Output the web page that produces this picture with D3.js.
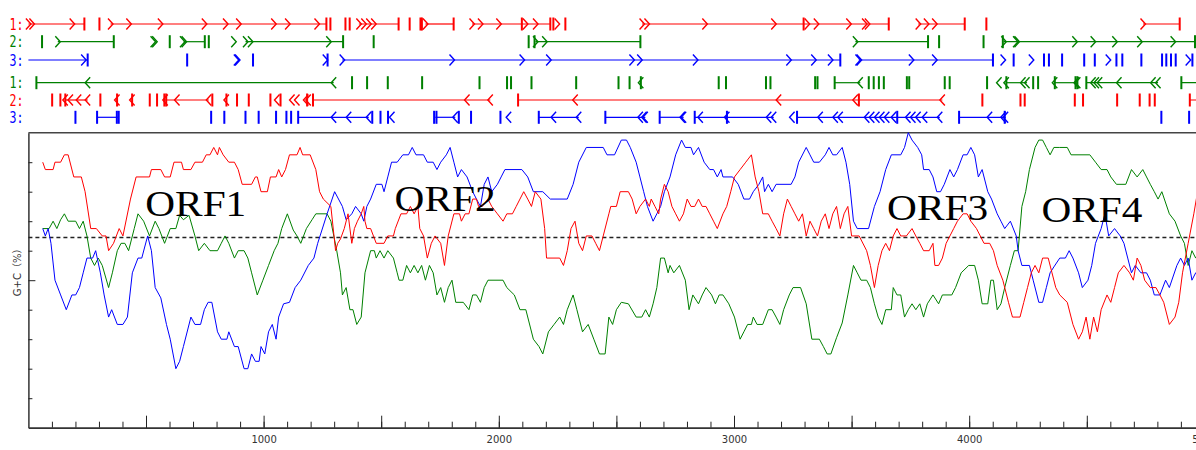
<!DOCTYPE html>
<html>
<head>
<meta charset="utf-8">
<script src="https://cdn.jsdelivr.net/npm/d3@7"></script>
<style>
  body { margin: 0; background: #fff; }
  svg { display: block; }
</style>
</head>
<body>
<svg id="chart" width="1196" height="450"></svg>
<script>
// G+C content per frame, [position (bp), G+C %]
const redGC = [[61,90],[72,87.5],[105,87.5],[113,90],[137,90],[153,92.5],[169,92.5],[193,85],[225,85],[241,80],[265,67.5],[289,67.5],[314,65],[330,65],[341,60],[362,62.5],[386,67.5],[402,65],[434,77.5],[458,85],[515,85],[523,87.5],[563,87.5],[579,85],[603,85],[619,90],[651,90],[659,87.5],[691,87.5],[708,90],[740,90],[756,92.5],[772,92.5],[788,95],[804,92.5],[812,95],[828,92.5],[852,90],[876,90],[892,87.5],[909,82.5],[949,82.5],[965,85],[973,85],[989,80],[1016,80],[1029,85],[1053,85],[1064,87.5],[1077,85],[1093,87.5],[1110,92.5],[1142,92.5],[1155,95],[1166,92.5],[1198,92.5],[1222,87.5],[1238,80],[1254,77.5],[1286,75],[1306,60],[1315,62.5],[1327,64],[1343,67.5],[1359,72.5],[1375,62.5],[1386,67.5],[1399,70],[1415,72.5],[1426,75],[1431,70],[1439,67.5],[1455,67.5],[1479,62.5],[1512,62.5],[1528,65],[1552,65],[1560,67.5],[1584,72.5],[1608,72.5],[1624,75],[1640,72.5],[1656,75],[1664,67.5],[1680,65],[1696,57.5],[1713,62.5],[1729,65],[1753,62.5],[1769,55],[1785,65],[1809,72.5],[1833,72.5],[1841,70],[1857,72.5],[1873,72.5],[1889,77.5],[1905,77.5],[1914,75],[1930,75],[1954,77.5],[1970,75],[1994,72.5],[2018,70],[2034,72.5],[2058,72.5],[2074,75],[2090,77.5],[2106,80],[2123,77.5],[2139,75],[2155,80],[2179,77.5],[2195,67.5],[2203,57.5],[2259,57.5],[2275,55],[2291,60],[2307,67.5],[2324,70],[2340,62.5],[2356,60],[2372,65],[2396,65],[2412,62.5],[2428,60],[2444,65],[2468,72.5],[2476,75],[2500,75],[2516,80],[2551,80],[2567,77.5],[2584,72.5],[2600,75],[2624,77.5],[2640,75],[2648,77.5],[2664,75],[2680,72.5],[2688,77.5],[2704,82.5],[2720,80],[2736,75],[2752,72.5],[2768,70],[2785,72.5],[2801,77.5],[2817,75],[2833,75],[2849,77.5],[2865,75],[2881,75],[2897,72.5],[2913,70],[2929,67.5],[2953,72.5],[2969,75],[2986,80],[3002,85],[3026,87.5],[3050,90],[3074,92.5],[3090,85],[3106,80],[3122,72.5],[3146,72.5],[3162,70],[3179,67.5],[3195,65],[3211,72.5],[3227,77.5],[3243,75],[3259,72.5],[3275,70],[3291,72.5],[3307,65],[3323,70],[3339,67.5],[3355,65],[3371,70],[3388,72.5],[3404,67.5],[3420,72.5],[3436,75],[3452,67.5],[3468,72.5],[3484,75],[3500,65],[3532,65],[3564,60],[3580,55],[3597,47.5],[3613,55],[3629,60],[3645,62.5],[3661,60],[3677,65],[3693,67.5],[3709,65],[3733,65],[3757,67.5],[3773,65],[3790,62.5],[3806,60],[3830,60],[3846,62.5],[3854,55],[3870,55],[3886,57.5],[3902,62.5],[3918,65],[3934,67.5],[3950,70],[3974,72.5],[3991,72.5],[4007,70],[4031,67.5],[4047,65],[4063,62.5],[4087,62.5],[4103,60],[4119,55],[4143,50],[4167,42.5],[4184,37.5],[4216,37.5],[4232,42.5],[4248,47.5],[4264,52.5],[4280,55],[4296,52.5],[4312,57.5],[4336,57.5],[4352,52.5],[4368,47.5],[4385,45],[4417,42.5],[4441,35],[4465,30],[4481,32.5],[4497,37.5],[4513,30],[4529,37.5],[4545,32.5],[4561,40],[4586,45],[4602,42.5],[4618,47.5],[4634,52.5],[4658,55],[4682,52.5],[4698,50],[4714,57.5],[4730,55],[4746,50],[4770,47.5],[4794,47.5],[4811,45],[4827,42.5],[4851,35],[4875,37.5],[4891,42.5],[4907,52.5],[4931,62.5],[4955,72.5],[4971,80],[4992,84]];

const blueGC = [[61,67.5],[72,65],[84,67.5],[96,62.5],[113,50],[137,45],[161,40],[185,45],[201,45],[217,47.5],[233,52.5],[249,57.5],[273,57.5],[286,60],[306,52.5],[322,45],[341,37.5],[354,40],[378,35],[402,35],[421,37.5],[442,52.5],[466,57.5],[482,57.5],[507,65],[523,60],[539,47.5],[563,44],[587,35],[603,30],[627,20],[643,22.5],[659,27.5],[691,37.5],[708,35],[732,35],[748,40],[764,42.5],[780,42.5],[804,32.5],[820,30],[844,30],[852,32.5],[876,27.5],[892,27.5],[917,20],[933,20],[949,25],[965,22.5],[981,22.5],[989,27.5],[1005,25],[1021,32.5],[1037,35],[1053,30],[1064,37.5],[1085,42],[1110,42.5],[1134,47.5],[1158,50],[1190,55],[1214,57.5],[1230,62.5],[1270,72.5],[1302,80],[1335,75],[1351,70.5],[1375,72.5],[1391,75],[1415,72.5],[1426,70],[1439,75],[1455,77.5],[1479,82.5],[1503,82.5],[1512,80],[1528,85],[1544,90],[1568,90],[1592,92.5],[1616,92.5],[1632,95],[1648,92.5],[1680,92.5],[1696,90],[1721,90],[1737,87.5],[1753,90],[1777,92.5],[1793,95],[1809,90],[1825,85],[1841,87.5],[1865,85],[1889,80],[1905,77.5],[1922,75],[1938,82.5],[1954,85],[1970,80],[1994,82.5],[2010,85],[2026,87.5],[2098,87.5],[2123,85],[2147,80],[2187,80],[2219,77.5],[2291,77.5],[2316,82.5],[2340,90],[2372,95],[2444,95],[2460,92.5],[2492,92.5],[2521,97.5],[2543,97.5],[2559,95],[2584,90],[2600,85],[2616,80],[2632,75],[2656,70],[2672,72.5],[2688,75],[2704,80],[2728,85],[2752,92.5],[2777,97.5],[2793,95],[2817,95],[2828,92.5],[2849,95],[2873,90],[2897,87.5],[2913,87.5],[2929,85],[2945,87.5],[2953,85],[2994,85],[3018,82.5],[3042,77.5],[3066,77.5],[3082,80],[3106,82.5],[3122,85],[3130,80],[3146,82.5],[3162,80],[3179,82.5],[3243,82.5],[3259,85],[3275,90],[3307,95],[3323,92.5],[3339,90],[3363,90],[3388,92.5],[3404,95],[3420,92.5],[3436,92.5],[3460,95],[3476,90],[3492,82.5],[3508,70],[3524,67.5],[3572,67.5],[3597,75],[3621,80],[3645,87.5],[3669,92.5],[3709,92.5],[3725,95],[3741,100],[3757,97.5],[3781,95],[3798,92.5],[3806,87.5],[3830,87.5],[3846,85],[3862,80],[3878,80],[3894,82.5],[3918,87.5],[3934,85],[3950,87.5],[3974,92.5],[3991,92.5],[4007,95],[4023,92.5],[4039,85],[4055,87.5],[4079,80],[4095,77.5],[4119,72.5],[4135,70],[4151,67.5],[4175,70],[4200,65],[4208,60],[4224,55],[4256,55],[4272,50],[4296,42.5],[4312,42.5],[4328,47.5],[4344,52.5],[4360,54.5],[4385,57.5],[4409,57.5],[4425,60],[4441,57.5],[4465,52.5],[4481,47.5],[4505,50],[4521,55],[4537,62.5],[4561,67.5],[4577,72.5],[4593,65],[4618,67.5],[4642,65],[4658,62.5],[4674,57.5],[4690,52.5],[4706,55],[4730,52.5],[4754,52.5],[4770,50],[4787,45],[4811,45],[4835,50],[4851,47.5],[4883,55],[4899,57.5],[4915,55],[4931,57.5],[4947,50],[4963,52.5],[4992,51]];

const greenGC = [[61,67.5],[88,67.5],[105,70],[121,67.5],[137,70.5],[153,72.5],[169,70],[201,70],[217,67.5],[233,70],[249,65],[265,57.5],[281,55],[297,57.5],[314,55],[341,47.5],[357,52.5],[378,60],[394,62.5],[410,62.5],[426,60],[450,67.5],[466,72.5],[490,70],[515,65],[539,70],[555,67.5],[579,62.5],[603,67.5],[627,67.5],[643,72],[659,70.5],[683,72],[708,65],[724,60],[748,62.5],[772,60],[804,60],[820,62.5],[836,65],[852,62.5],[876,57.5],[892,60],[917,60],[933,57.5],[949,52.5],[973,45],[997,50],[1021,55],[1045,60],[1061,62.5],[1077,67.5],[1101,72.5],[1126,67],[1142,65],[1158,62.5],[1182,67.5],[1206,70.5],[1222,72.5],[1270,72.5],[1286,70],[1311,60],[1327,52.5],[1335,45],[1351,47.5],[1367,40],[1380,40],[1396,35],[1415,37.5],[1431,52.5],[1447,57.5],[1455,60],[1471,60],[1479,57.5],[1495,60],[1512,57.5],[1528,60],[1552,57.5],[1568,52.5],[1576,50],[1592,50],[1608,55],[1624,52.5],[1640,55],[1656,52.5],[1672,55],[1688,50],[1705,55],[1721,52.5],[1737,45],[1753,47.5],[1769,42.5],[1785,47.5],[1801,50],[1817,42.5],[1849,42.5],[1873,40],[1889,45],[1905,45],[1922,42.5],[1938,47.5],[1954,50],[2018,50],[2034,47.5],[2066,45],[2090,40],[2115,40],[2147,30],[2171,27.5],[2187,25],[2211,32.5],[2235,35],[2259,37.5],[2275,35],[2291,40],[2316,45],[2332,40],[2356,32.5],[2380,35],[2404,30],[2428,25],[2452,25],[2468,37.5],[2484,35],[2500,40],[2521,42.5],[2551,42],[2584,37.5],[2608,37.5],[2624,40],[2640,37.5],[2656,42],[2672,47.5],[2688,57.5],[2704,57.5],[2720,52.5],[2728,55],[2744,52.5],[2768,55],[2793,50],[2809,40],[2825,45],[2849,42],[2865,45],[2881,47.5],[2905,45],[2921,42],[2937,45],[2953,45],[2978,42],[3002,37.5],[3026,30],[3042,32.5],[3058,35],[3074,35],[3082,37.5],[3098,35],[3122,35],[3146,40],[3162,40],[3179,37.5],[3195,35],[3211,40],[3235,45],[3251,47.5],[3283,47.5],[3307,42],[3331,30],[3363,30],[3380,27.5],[3396,25],[3412,25],[3436,30.5],[3460,35.5],[3484,45],[3508,55],[3524,52.5],[3540,50],[3564,50],[3580,47.5],[3597,42],[3613,37.5],[3629,35],[3645,40],[3669,40],[3677,47.5],[3693,45],[3709,45],[3725,37.5],[3741,40],[3757,42],[3773,40],[3790,42],[3806,37.5],[3822,42],[3846,45],[3870,42],[3886,45],[3926,45],[3942,47.5],[3966,52.5],[3998,55],[4023,55],[4039,50],[4055,42],[4079,42],[4092,50],[4103,50],[4119,40],[4135,42],[4151,47.5],[4175,55],[4192,60],[4208,60],[4224,75],[4240,80],[4256,87.5],[4280,95],[4296,97.5],[4312,97.5],[4328,95],[4344,92.5],[4360,95],[4385,95],[4417,95],[4433,92.5],[4513,92.5],[4537,90],[4561,87.5],[4586,87.5],[4602,85],[4626,82.5],[4666,82.5],[4690,87.5],[4714,85],[4738,87.5],[4754,85],[4770,82.5],[4787,80],[4803,77.5],[4819,80],[4851,72.5],[4875,70],[4899,65],[4915,62.5],[4931,55],[4947,60],[4963,57.5],[4992,62.5]];

const meanGC = 64.5;

const orfNames = ['ORF1', 'ORF2', 'ORF3', 'ORF4'];
const orfNamePos = [[497, 71.8], [1557, 73.5], [3651, 70.3], [4307, 69.7]];

const xMajorTicks = d3.range(500, 5001, 500);
const xMinorTicks = d3.range(100, 5000, 100);
const yTicks = d3.range(10, 100, 10);

// ORF map: stop codons, start codons, open reading frames (bp)
const fwd1Stops = [238,302,1267,1284,1348,1366,1574,1621,1667,1673,1808,2098,2219,2232,2283,3296,3658,3981,4073,4895];
const fwd1Starts = [0,15,186,349,427,561,748,838,894,1043,1102,1227,1405,1426,1447,1468,1688,1886,1922,2000,2113,2156,2248,2609,2630,2876,3169,3311,3350,3488,3555,3567,3783,3818,3853,4739];
const fwd1Orfs = [[0,238],[349,1267],[1405,1574],[1688,1808],[1886,2219],[2609,3658],[3783,3981],[4739,4895]];

const fwd2Stops = [58,363,601,750,767,1338,1468,2127,2152,2602,3825,3872,4061,4143,4960];
const fwd2Starts = [125,530,537,655,662,873,923,944,1277,2156,2195,3516,4147,4197,4203,4449,4527,4619,4725,4867];
const fwd2Orfs = [[125,363],[660,750],[923,1338],[2156,2602],[3516,3825],[4147,4960]];

const fwd3Stops = [252,675,955,1272,3452,4101,4189,4318,4339,4395,4489,4534,4626,4651,4732,4820,4838,4858,4878,4949];
const fwd3Starts = [235,884,889,1262,1334,1801,2099,2212,2566,2599,2836,3233,3339,3410,3527,3532,3754,3853,4144,4264,4591,4931];
const fwd3Orfs = [[0,252],[1334,3452],[3530,4101]];

const rev1Stops = [34,1376,1440,1528,1674,1918,2035,2052,2139,2329,2509,2556,2604,2935,2966,3136,3155,3345,3355,3428,3573,3594,3616,3637,3735,3745,3896,3917,4076,4158,4272,4293,4364,4452,4460,4498,4902];
const rev1Starts = [252,1298,2604,3537,4127,4158,4229,4246,4364,4456,4462,4527,4541,4555,4637,4782,4803];
const rev1Orfs = [[34,1298],[3428,3537],[4158,4246],[4364,4456],[4498,4803],[4902,5100]];

const rev2Stops = [101,136,157,306,377,441,516,547,578,586,782,842,887,937,1029,1072,1185,1210,2082,3531,4056,4218,4236,4449,4484,4629,4725,4767,4789,4938];
const rev2Starts = [157,179,214,252,377,441,582,632,767,842,1057,1121,1142,1180,1190,1865,1964,2325,3190,3516,3886];
const rev2Orfs = [[157,252],[582,767],[1210,1964],[2082,3886],[4938,5100]];

const rev3Stops = [200,292,376,384,777,833,923,979,1053,1097,1117,1147,1462,1497,1529,1725,1735,1830,1882,2007,2170,2453,2684,2833,2970,3268,3694,3957,4151,4817,4935];
const rev3Starts = [1298,1362,1447,1546,1815,2042,2233,2340,2602,2618,2623,2781,2786,2857,2970,3148,3169,3247,3367,3431,3452,3565,3586,3608,3629,3650,3679,3740,3761,3783,3811,3875,4087,4145,4155];
const rev3Orfs = [[292,380],[1147,1447],[1730,1815],[2170,2340],[2453,2623],[2684,2786],[2833,3169],[3268,3875],[3957,4155]];

const trackLabels = ['1:', '2:', '3:', '1:', '2:', '3:'];

const red = '#ff0000', green = '#008000', blue = '#0000ff';
const tracks = [
  {label: trackLabels[0], color: red,   dir: 1,  y: 24,    stops: fwd1Stops, starts: fwd1Starts, orfs: fwd1Orfs},
  {label: trackLabels[1], color: green, dir: 1,  y: 41.7,  stops: fwd2Stops, starts: fwd2Starts, orfs: fwd2Orfs},
  {label: trackLabels[2], color: blue,  dir: 1,  y: 60,    stops: fwd3Stops, starts: fwd3Starts, orfs: fwd3Orfs},
  {label: trackLabels[3], color: green, dir: -1, y: 82.7,  stops: rev1Stops, starts: rev1Starts, orfs: rev1Orfs},
  {label: trackLabels[4], color: red,   dir: -1, y: 100,   stops: rev2Stops, starts: rev2Starts, orfs: rev2Orfs},
  {label: trackLabels[5], color: blue,  dir: -1, y: 117.3, stops: rev3Stops, starts: rev3Starts, orfs: rev3Orfs}
];

const svg = d3.select('#chart');
const xScale = d3.scaleLinear().domain([0, 5000]).range([28.4, 1204.4]);
const yScale = d3.scaleLinear().domain([0, 100]).range([427.7, 132.7]);

// ---- ORF map ----
const mapG = svg.append('g').attr('class', 'orf-map');
tracks.forEach(t => {
  const g = mapG.append('g');
  g.append('text')
    .attr('x', 9.5)
    .attr('y', t.y + 5.5)
    .attr('fill', t.color)
    .attr('font-family', 'DejaVu Sans Mono, monospace')
    .attr('font-size', 15)
    .attr('textLength', 14)
    .attr('lengthAdjust', 'spacingAndGlyphs')
    .text(t.label);

  g.selectAll('line.orf').data(t.orfs).enter().append('line')
    .attr('class', 'orf')
    .attr('x1', d => xScale(d[0]))
    .attr('x2', d => xScale(d[1]))
    .attr('y1', t.y).attr('y2', t.y)
    .attr('stroke', t.color)
    .attr('stroke-width', 1.2);

  g.selectAll('rect.stop').data(t.stops).enter().append('rect')
    .attr('class', 'stop')
    .attr('x', d => xScale(d) - 1)
    .attr('y', t.y - 6.5)
    .attr('width', 2)
    .attr('height', 13)
    .attr('fill', t.color);

  g.selectAll('path.start').data(t.starts).enter().append('path')
    .attr('class', 'start')
    .attr('d', d => {
      const x = xScale(d), w = 2.5 * t.dir;
      return `M${x - w},${t.y - 5.5}L${x + w},${t.y}L${x - w},${t.y + 5.5}`;
    })
    .attr('fill', 'none')
    .attr('stroke', t.color)
    .attr('stroke-width', 1.4);
});

// ---- G+C plot ----
const plotG = svg.append('g').attr('class', 'gc-plot');

plotG.append('line')
  .attr('x1', xScale(0)).attr('x2', 1196)
  .attr('y1', yScale(100)).attr('y2', yScale(100))
  .attr('stroke', '#444').attr('stroke-width', 1.5);

const xMinorAxis = d3.axisBottom(xScale).tickValues(xMinorTicks).tickSize(-6).tickSizeOuter(0).tickFormat('');
const xMajorAxis = d3.axisBottom(xScale).tickValues(xMajorTicks).tickSize(-12).tickSizeOuter(0)
  .tickPadding(8).tickFormat(d => d % 1000 === 0 ? d : '');

const xAxisG = plotG.append('g').attr('transform', `translate(0, ${yScale(0)})`);
xAxisG.append('g').call(xMinorAxis);
xAxisG.append('g').call(xMajorAxis);
xAxisG.selectAll('path.domain').attr('stroke', '#333').attr('stroke-width', 1.5);
xAxisG.selectAll('.tick line').attr('stroke', '#222');
xAxisG.selectAll('.tick text')
  .attr('font-family', 'DejaVu Sans, sans-serif')
  .attr('font-size', 10)
  .attr('fill', '#333');

const yAxis = d3.axisLeft(yScale).tickValues(yTicks).tickSizeInner(-4).tickSizeOuter(0).tickFormat('');
const yAxisG = plotG.append('g').attr('transform', `translate(${xScale(0)}, 0)`).call(yAxis);
yAxisG.selectAll('.tick').filter(d => d === 50).select('line').attr('x2', 7);
yAxisG.select('path.domain').attr('stroke', '#333').attr('stroke-width', 1.5);
yAxisG.selectAll('.tick line').attr('stroke', '#222');

plotG.append('text')
  .attr('transform', `translate(21, ${yScale(53.5)}) rotate(-90)`)
  .attr('text-anchor', 'middle')
  .attr('font-family', 'DejaVu Sans, Noto Sans CJK SC, sans-serif')
  .attr('font-size', 10)
  .attr('fill', '#333')
  .text('G+C（%）');

plotG.append('line')
  .attr('x1', xScale(0)).attr('x2', 1196)
  .attr('y1', yScale(meanGC)).attr('y2', yScale(meanGC))
  .attr('stroke', '#222')
  .attr('stroke-width', 1.5)
  .attr('stroke-dasharray', '4,3');

const lineGen = d3.line().x(d => xScale(d[0])).y(d => yScale(d[1]));
[[greenGC, green], [blueGC, blue], [redGC, red]].forEach(([data, color]) => {
  plotG.append('path')
    .datum(data)
    .attr('d', lineGen)
    .attr('fill', 'none')
    .attr('stroke', color)
    .attr('stroke-width', 1);
});

plotG.selectAll('text.orf-name').data(orfNames).enter().append('text')
  .attr('class', 'orf-name')
  .attr('x', (d, i) => xScale(orfNamePos[i][0]))
  .attr('y', (d, i) => yScale(orfNamePos[i][1]))
  .attr('font-family', 'Liberation Serif, Times New Roman, serif')
  .attr('font-size', 35)
  .attr('textLength', 101)
  .attr('lengthAdjust', 'spacingAndGlyphs')
  .attr('fill', '#000')
  .text(d => d);
</script>
</body>
</html>
